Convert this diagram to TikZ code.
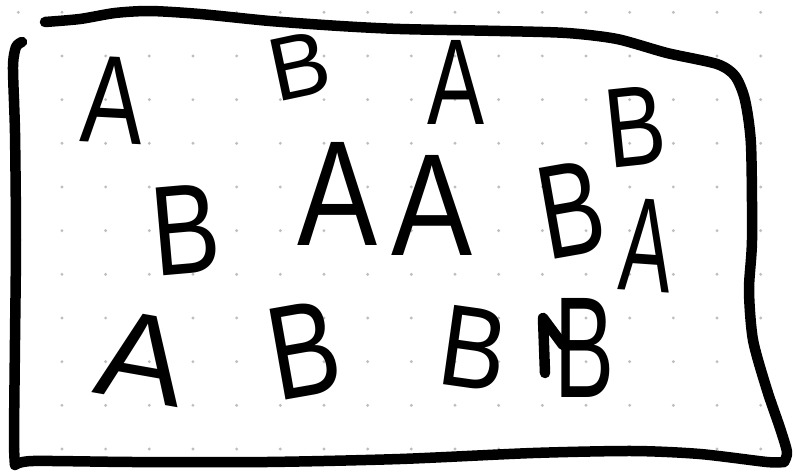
\documentclass[tikz,border=0pt]{standalone}
\usepackage{fontspec}
\usepackage{graphicx}
\setmainfont{Liberation Sans}
\newcommand\hw[3]{\resizebox{#1pt}{#2pt}{#3}}
\definecolor{dotgray}{RGB}{190,190,190}
\tikzset{
  letter/.style={inner sep=0pt, outer sep=0pt, text=black},
  marker/.style={line width=10.5pt, line cap=round, line join=round, black},
}
\begin{document}
\begin{tikzpicture}[x=1pt,y=-1pt]
\fill[white] (0,0) rectangle (796,474);
\useasboundingbox (0,0) rectangle (796,474);
% dot grid
\foreach \i in {0,...,17}{
  \foreach \j in {0,...,10}{
    \fill[dotgray] ({18.3+43.67*\i},{12.3+43.67*\j}) circle (1.6);
  }
}
% frame
\draw[marker] plot[smooth, tension=0.45] coordinates {
  (45,22) (80,19) (115,13) (150,11) (200,14) (270,21) (340,26) (400,29)
  (500,31) (567,33) (617,39) (667,53) (717,64) (735,76) (745,100) (751,145)
  (752,240) (749,290) (753,340) (767,390) (780,428) (787,452) (784,462)};
\draw[marker] plot[smooth, tension=0.45] coordinates {
  (784,462) (767,462) (700,454) (633,451) (533,453) (400,459) (267,462)
  (133,462) (33,461) (15,465)};
\draw[marker] plot[smooth, tension=0.45] coordinates {
  (15,465) (14,440) (15,340) (16,240) (15,133) (13,67) (16,47) (22,42)};
% letters
\node[letter, rotate=-3]  (a1)  at (112.5,100) {\hw{62}{86}{A}};
\node[letter, rotate=12]  (b2)  at (299.5,65.5) {\hw{60}{62}{B}};
\node[letter]             (a3)  at (456.5,82) {\hw{57}{84}{A}};
\node[letter, rotate=6]   (b4)  at (635.5,127) {\hw{60}{78}{B}};
\node[letter, rotate=5]   (b5)  at (186,230) {\hw{68}{88}{B}};
\node[letter]             (a6)  at (338,193.5) {\hw{80}{103}{A}};
\node[letter]             (a7)  at (432.5,205) {\hw{81}{100}{A}};
\node[letter, rotate=10]  (b8)  at (571,210) {\hw{64}{92}{B}};
\node[letter, rotate=-4]  (a9)  at (646.5,245) {\hw{52}{92}{A}};
\node[letter, rotate=-10] (a10) at (142.5,357.5) {\hw{88}{86}{A}};
\node[letter, rotate=10]  (b11) at (304,350) {\hw{70}{92}{B}};
\node[letter, rotate=-8]  (b12) at (474,348.5) {\hw{66}{80}{B}};
\node[letter]             (b13) at (585,347.5) {\hw{60}{99}{B}};
% extra stroke over the last B
\draw[marker] (545,373) -- (543,318) -- (563,345);
\end{tikzpicture}
\end{document}
